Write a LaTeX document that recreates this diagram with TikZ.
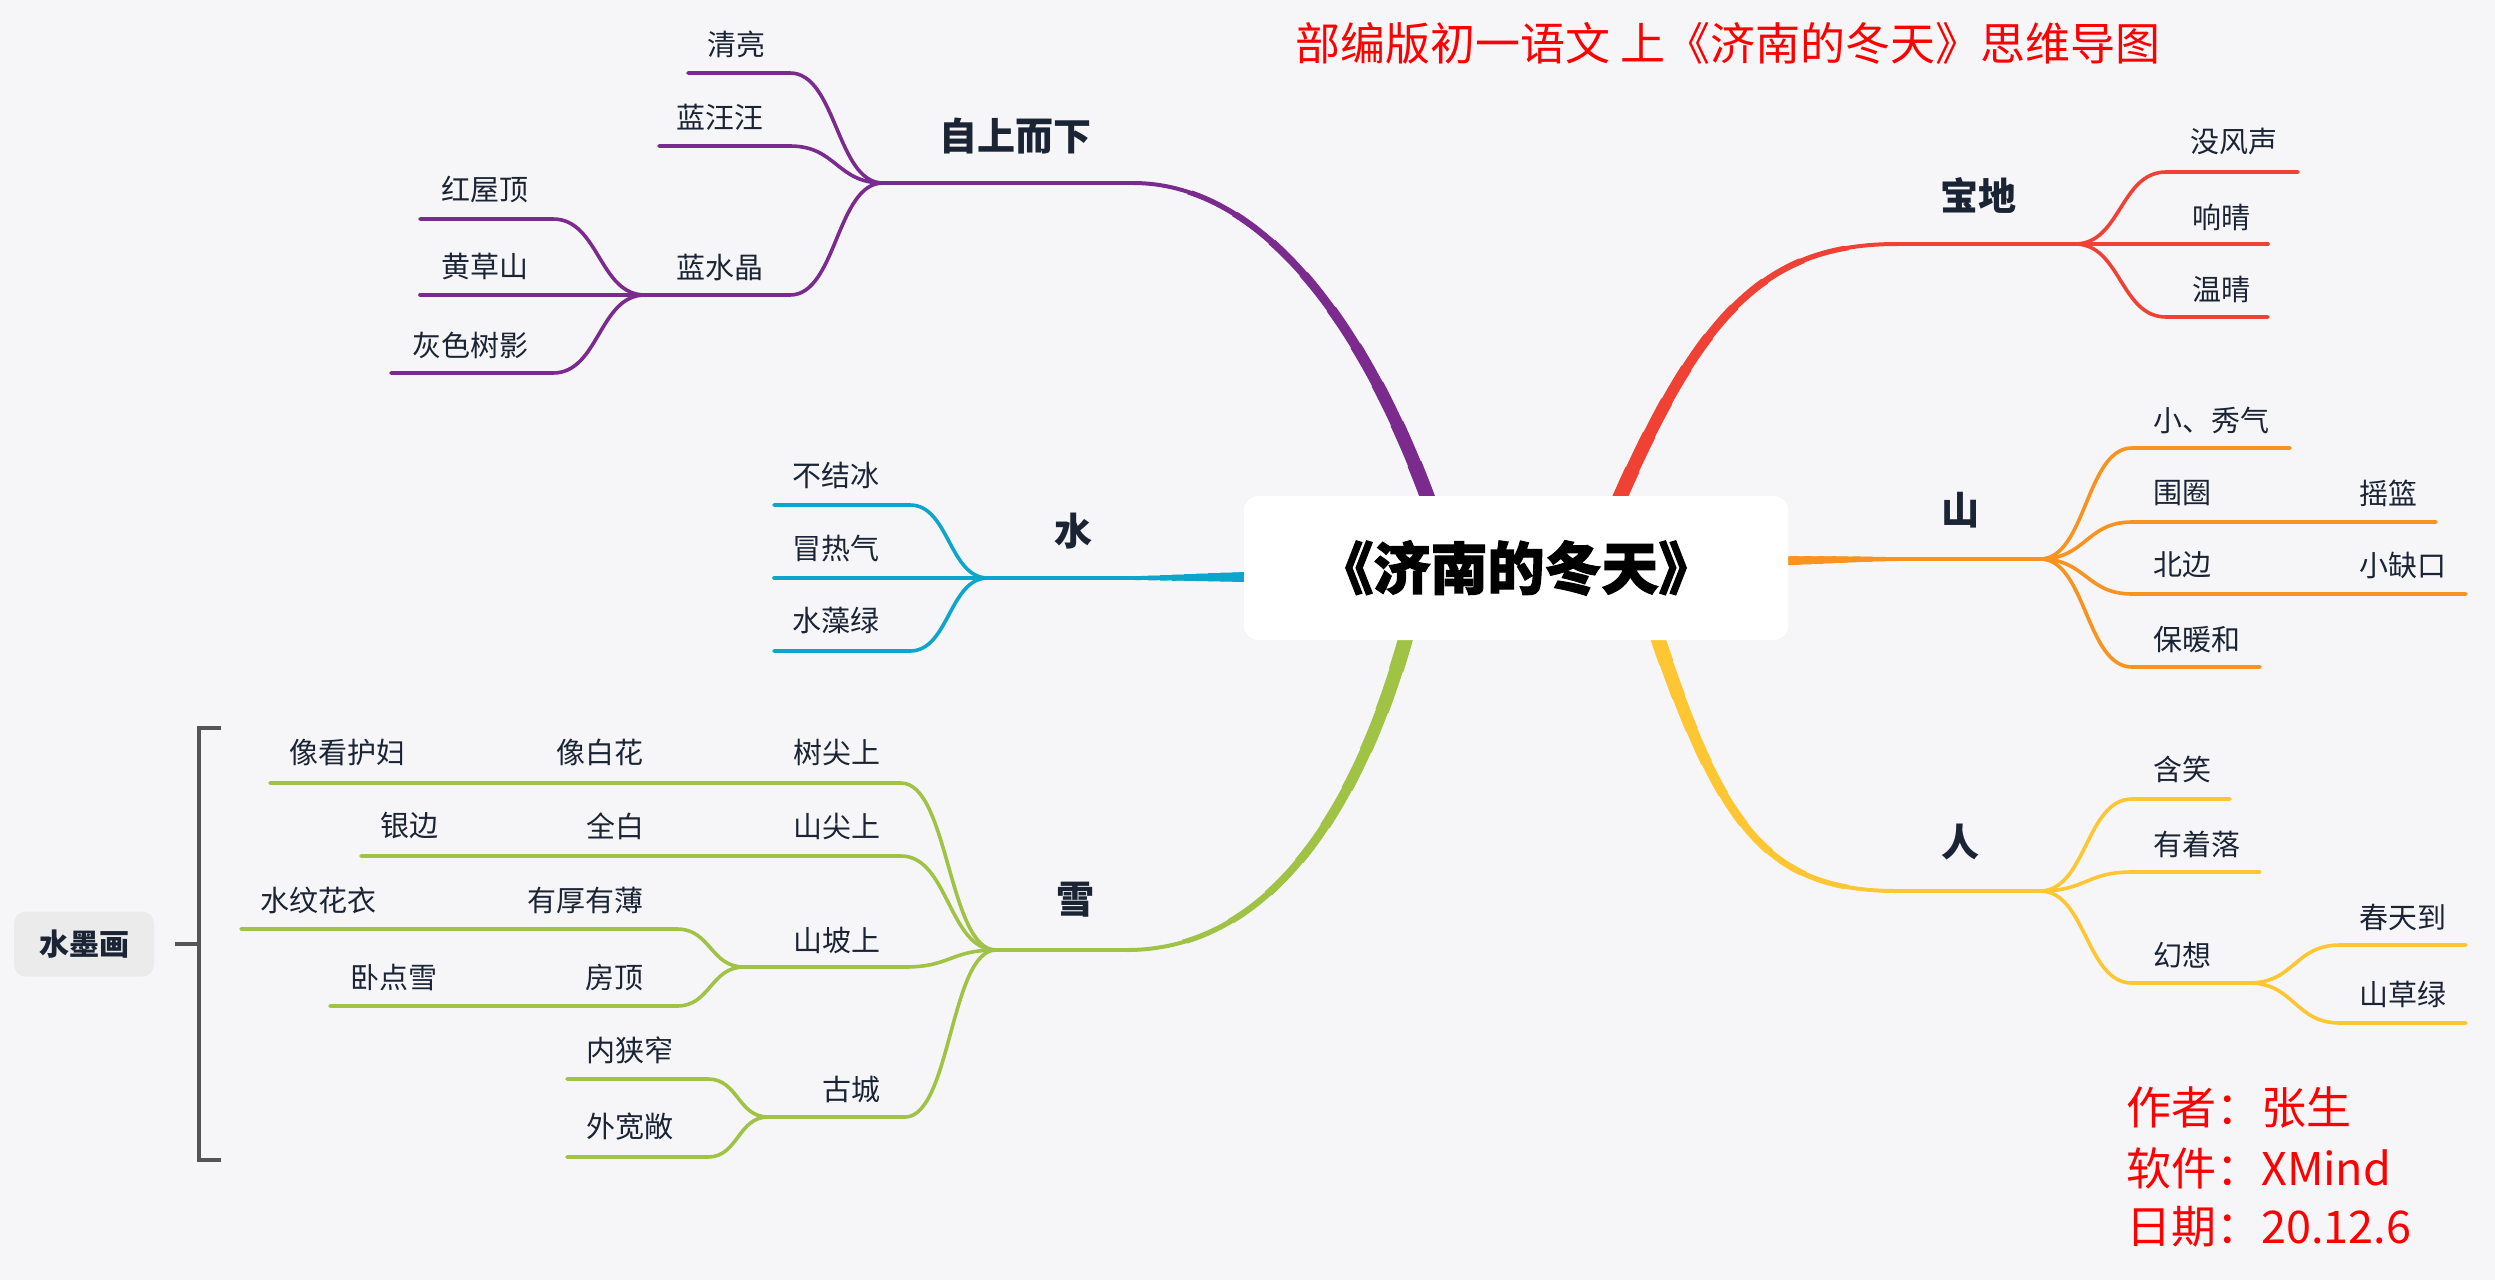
\documentclass[tikz,border=0pt]{standalone}
\usepackage{fontspec}
\setmainfont{Noto Sans CJK SC}
\newfontfamily\cjkheavy[BoldFeatures={FakeBold=2}]{Noto Sans CJK SC}
\usetikzlibrary{calc}
\definecolor{bg}{HTML}{F6F6F9}
\definecolor{txt}{HTML}{1B2434}
\definecolor{pu}{HTML}{7B2A8E}
\definecolor{rd}{HTML}{EF4134}
\definecolor{og}{HTML}{F7931E}
\definecolor{ye}{HTML}{FFC633}
\definecolor{gr}{HTML}{A0C346}
\definecolor{bl}{HTML}{0EA5CD}
\definecolor{redtxt}{HTML}{FF0000}
\definecolor{boxgray}{HTML}{EBEBEC}
\definecolor{brk}{HTML}{555555}
\newcommand\mmtaper[7]{%
  \draw[#1,line width=4pt] (#2) .. controls (#3) and (#4) .. (#5);
  \foreach \i in {9,8,...,1}{%
    \pgfmathsetmacro\rr{\i*#6/10}%
    \pgfmathsetmacro\ww{4+(#7-4)*(1-\i/10)}%
    \begin{scope}
      \clip (#5) circle[radius=\rr pt];
      \draw[#1,line width=\ww pt] (#2) .. controls (#3) and (#4) .. (#5);
    \end{scope}
  }%
}
\tikzset{
  hc/.style={to path={let \p1=(\tikztostart),\p2=(\tikztotarget) in
     .. controls ({(\x1+\x2)/2},\y1) and ({(\x1+\x2)/2},\y2) .. (\tikztotarget)}},
  leaf/.style={font=\fontsize{29}{32}\selectfont, text=txt, inner sep=0pt},
  topic/.style={font=\fontsize{38}{42}\selectfont\bfseries, text=txt, inner sep=0pt},
  sub/.style={line width=3.6pt, line cap=round, line join=round},
  rootbox/.style={fill=white, rounded corners=14pt, minimum width=544pt, minimum height=144pt,
     inner sep=0pt, text=black, font=\cjkheavy\bfseries\fontsize{57}{62}\selectfont},
  redlabel/.style={text=redtxt, inner sep=0pt, font=\fontsize{45}{50}\selectfont},
  brkline/.style={draw=brk, line width=3.5pt},
}
\begin{document}
\begin{tikzpicture}[x=1pt,y=-1pt]
\useasboundingbox (0,0) rectangle (2495,1280);
\fill[bg] (0,0) rectangle (2495,1280);

% ---------- coordinates of thick branches ----------
\coordinate (pS) at (1133,183);  \coordinate (pC1) at (1253,183);
\coordinate (pC2) at (1358,307); \coordinate (pE) at (1430,504);
\coordinate (rS) at (1897,244);  \coordinate (rC1) at (1767,244);
\coordinate (rC2) at (1701,311); \coordinate (rE) at (1617,504);
\coordinate (gS) at (1127,950);  \coordinate (gC1) at (1257,950);
\coordinate (gC2) at (1353,831); \coordinate (gE) at (1408,630);
\coordinate (yS) at (1897,891);  \coordinate (yC1) at (1767,891);
\coordinate (yC2) at (1721,827); \coordinate (yE) at (1655,630);
\coordinate (oS) at (1897,559);  \coordinate (oC1) at (1860,559);
\coordinate (oC2) at (1820,560); \coordinate (oE) at (1775,561);
\coordinate (bS) at (1135,578);  \coordinate (bC1) at (1170,578);
\coordinate (bC2) at (1210,577); \coordinate (bE) at (1256,577);

\mmtaper{pu}{pS}{pC1}{pC2}{pE}{437}{16}
\mmtaper{rd}{rS}{rC1}{rC2}{rE}{382}{16}
\mmtaper{gr}{gS}{gC1}{gC2}{gE}{426}{16}
\mmtaper{ye}{yS}{yC1}{yC2}{yE}{356}{16}
\mmtaper{og}{oS}{oC1}{oC2}{oE}{122}{10}
\mmtaper{bl}{bS}{bC1}{bC2}{bE}{120}{11}

% ---------- central topic ----------
\node[rootbox] (root) at (1516,568) {《济南的冬天》};

% ---------- title ----------
\node[redlabel] (title) at (1728,43) {部编版初一语文 上《济南的冬天》思维导图};

% ---------- PURPLE : 自上而下 ----------
\coordinate (pJ) at (883,183);
\node[topic] (zsxx) at (1015,136) {自上而下};
\coordinate (qlL) at (688,73);   \coordinate (qlR) at (790,73);
\coordinate (lwwL) at (659,146); \coordinate (lwwR) at (790,146);
\coordinate (lsjJ) at (645,295); \coordinate (lsjR) at (790,295);
\coordinate (hwdL) at (420,219); \coordinate (hwdR) at (553,219);
\coordinate (hcsL) at (420,295);
\coordinate (hsyL) at (391,373); \coordinate (hsyR) at (553,373);
\draw[pu,sub] (pS) -- (pJ);
\draw[pu,sub] (pJ) to[hc] (qlR) -- (qlL);
\draw[pu,sub] (pJ) to[hc] (lwwR) -- (lwwL);
\draw[pu,sub] (pJ) to[hc] (lsjR) -- (lsjJ);
\draw[pu,sub] (lsjJ) to[hc] (hwdR) -- (hwdL);
\draw[pu,sub] (lsjJ) -- (hcsL);
\draw[pu,sub] (lsjJ) to[hc] (hsyR) -- (hsyL);
\node[leaf] (ql) at (736,44) {清亮};
\node[leaf] (lww) at (720,117) {蓝汪汪};
\node[leaf] (lsj) at (720,267) {蓝水晶};
\node[leaf] (hwd) at (485,190) {红屋顶};
\node[leaf] (hcs) at (485,267) {黄草山};
\node[leaf] (hsy) at (470,345) {灰色树影};

% ---------- BLUE : 水 ----------
\coordinate (bJ) at (988,578);
\node[topic] (shui) at (1073,531) {水};
\coordinate (bjbL) at (774,505); \coordinate (bjbR) at (910,505);
\coordinate (mrqL) at (774,578);
\coordinate (wzlL) at (774,651); \coordinate (wzlR) at (910,651);
\draw[bl,sub] (bS) -- (bJ);
\draw[bl,sub] (bJ) to[hc] (bjbR) -- (bjbL);
\draw[bl,sub] (bJ) -- (mrqL);
\draw[bl,sub] (bJ) to[hc] (wzlR) -- (wzlL);
\node[leaf] (bjb) at (836,475) {不结冰};
\node[leaf] (mrq) at (836,548) {冒热气};
\node[leaf] (wzl) at (836,620) {水藻绿};

% ---------- GREEN : 雪 ----------
\coordinate (gJ) at (996,950);
\node[topic] (xue) at (1075,900) {雪};
\coordinate (sjsL) at (270,783);  \coordinate (sjsR) at (901,783);
\coordinate (sjtL) at (361,856);  \coordinate (sjtR) at (901,856);
\coordinate (spsJ) at (744,967);  \coordinate (spsR) at (905,967);
\coordinate (wwL) at (241,929);   \coordinate (wwR) at (677,929);
\coordinate (wdL) at (330,1006);  \coordinate (wdR) at (677,1006);
\coordinate (gcJ) at (768,1117);  \coordinate (gcR) at (905,1117);
\coordinate (nxL) at (567,1079);  \coordinate (nxR) at (708,1079);
\coordinate (wkL) at (567,1157);  \coordinate (wkR) at (708,1157);
\draw[gr,sub] (gS) -- (gJ);
\draw[gr,sub] (gJ) to[hc] (sjsR) -- (sjsL);
\draw[gr,sub] (gJ) to[hc] (sjtR) -- (sjtL);
\draw[gr,sub] (gJ) to[hc] (spsR) -- (spsJ);
\draw[gr,sub] (spsJ) to[hc] (wwR) -- (wwL);
\draw[gr,sub] (spsJ) to[hc] (wdR) -- (wdL);
\draw[gr,sub] (gJ) to[hc] (gcR) -- (gcJ);
\draw[gr,sub] (gcJ) to[hc] (nxR) -- (nxL);
\draw[gr,sub] (gcJ) to[hc] (wkR) -- (wkL);
\node[leaf] (xkhf) at (347,752) {像看护妇};
\node[leaf] (xbh) at (600,752) {像白花};
\node[leaf] (sjs) at (837,752) {树尖上};
\node[leaf] (yb) at (409,826) {银边};
\node[leaf] (qb) at (615,826) {全白};
\node[leaf] (sjt) at (837,826) {山尖上};
\node[leaf] (sps) at (837,940) {山坡上};
\node[leaf] (swhy) at (318,900) {水纹花衣};
\node[leaf] (yhyb) at (585,900) {有厚有薄};
\node[leaf] (wdx) at (394,977) {卧点雪};
\node[leaf] (fd) at (614,977) {房顶};
\node[leaf] (gc) at (851,1089) {古城};
\node[leaf] (nxz) at (630,1050) {内狭窄};
\node[leaf] (wkc) at (630,1127) {外宽敞};

% ---------- 水墨画 summary ----------
\node[fill=boxgray, rounded corners=12pt, minimum width=140pt, minimum height=65pt, inner sep=0pt,
      text=txt, font=\fontsize{30}{34}\selectfont\bfseries] (smh) at (84,944) {水墨画};
\coordinate (brkT) at (221,728); \coordinate (brkTT) at (199,728);
\coordinate (brkB) at (221,1160); \coordinate (brkBB) at (199,1160);
\coordinate (brkM) at (199,944); \coordinate (brkO) at (175,944);
\draw[brkline] (brkT) -- (brkTT) -- (brkBB) -- (brkB);
\draw[brkline] (brkM) -- (brkO);

% ---------- RED : 宝地 ----------
\coordinate (rJ) at (2075,244);
\node[topic] (bd) at (1978,195) {宝地};
\coordinate (mfsL) at (2166,172); \coordinate (mfsR) at (2298,172);
\coordinate (xqR) at (2268,244);
\coordinate (wqL) at (2166,317);  \coordinate (wqR) at (2268,317);
\draw[rd,sub] (rS) -- (rJ);
\draw[rd,sub] (rJ) to[hc] (mfsL) -- (mfsR);
\draw[rd,sub] (rJ) -- (xqR);
\draw[rd,sub] (rJ) to[hc] (wqL) -- (wqR);
\node[leaf] (mfs) at (2234,142) {没风声};
\node[leaf] (xq) at (2221,217) {响晴};
\node[leaf] (wq) at (2221,289) {温晴};

% ---------- ORANGE : 山 ----------
\coordinate (oJ) at (2040,559);
\node[topic] (shan) at (1960,510) {山};
\coordinate (xxqL) at (2132,448); \coordinate (xxqR) at (2290,448);
\coordinate (wjL) at (2132,522);  \coordinate (wjR) at (2436,522);
\coordinate (bbL) at (2132,594);  \coordinate (bbR) at (2466,594);
\coordinate (bnhL) at (2132,667); \coordinate (bnhR) at (2260,667);
\draw[og,sub] (oS) -- (oJ);
\draw[og,sub] (oJ) to[hc] (xxqL) -- (xxqR);
\draw[og,sub] (oJ) to[hc] (wjL) -- (wjR);
\draw[og,sub] (oJ) to[hc] (bbL) -- (bbR);
\draw[og,sub] (oJ) to[hc] (bnhL) -- (bnhR);
\node[leaf] (xxq) at (2211,420) {小、秀气};
\node[leaf] (wj) at (2182,493) {围圈};
\node[leaf] (yl) at (2388,493) {摇篮};
\node[leaf] (bb) at (2182,565) {北边};
\node[leaf] (xqk) at (2403,565) {小缺口};
\node[leaf] (bnh) at (2197,640) {保暖和};

% ---------- YELLOW : 人 ----------
\coordinate (yJ) at (2040,891);
\node[topic] (ren) at (1960,842) {人};
\coordinate (hxL) at (2132,799);  \coordinate (hxR) at (2230,799);
\coordinate (yzlL) at (2132,872); \coordinate (yzlR) at (2260,872);
\coordinate (hxsL) at (2132,983); \coordinate (hxsJ) at (2249,983);
\coordinate (ctdL) at (2340,945); \coordinate (ctdR) at (2466,945);
\coordinate (sclL) at (2340,1023); \coordinate (sclR) at (2466,1023);
\draw[ye,sub] (yS) -- (yJ);
\draw[ye,sub] (yJ) to[hc] (hxL) -- (hxR);
\draw[ye,sub] (yJ) to[hc] (yzlL) -- (yzlR);
\draw[ye,sub] (yJ) to[hc] (hxsL) -- (hxsJ);
\draw[ye,sub] (hxsJ) to[hc] (ctdL) -- (ctdR);
\draw[ye,sub] (hxsJ) to[hc] (sclL) -- (sclR);
\node[leaf] (hx) at (2182,769) {含笑};
\node[leaf] (yzl) at (2197,844) {有着落};
\node[leaf] (hxs) at (2182,955) {幻想};
\node[leaf] (ctd) at (2403,917) {春天到};
\node[leaf] (scl) at (2403,994) {山草绿};

% ---------- author block ----------
\node[redlabel, anchor=west] (zz) at (2126,1107) {作者：张生};
\node[redlabel, anchor=west] (rj) at (2126,1168) {软件：XMind};
\node[redlabel, anchor=west] (rq) at (2126,1227) {日期：20.12.6};
\end{tikzpicture}
\end{document}
